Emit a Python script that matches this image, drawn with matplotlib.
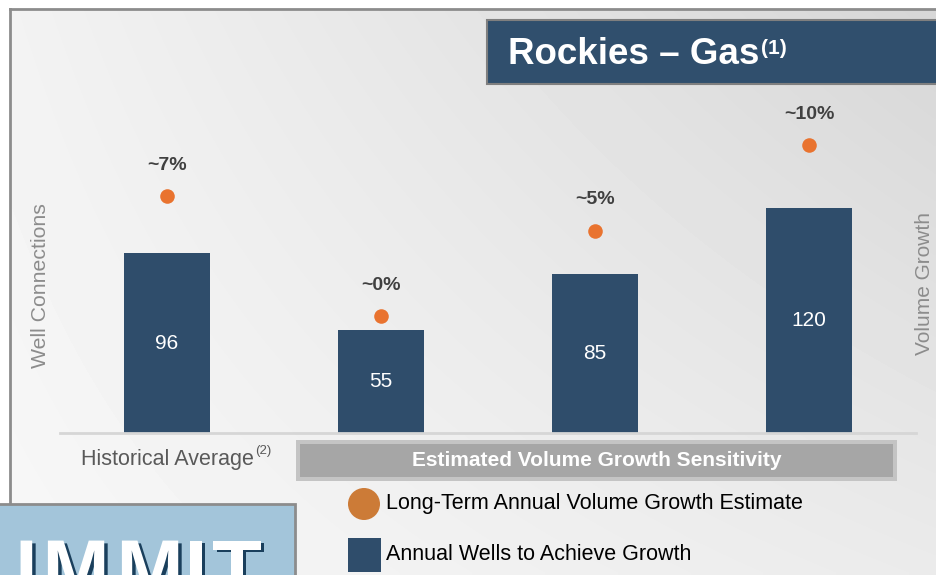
import numpy as np
import matplotlib
matplotlib.use("Agg")
import matplotlib.pyplot as plt
import matplotlib.patheffects as pe
from matplotlib.patches import Rectangle, Circle

plt.rcParams['font.family'] = ['Liberation Sans', 'DejaVu Sans']

# data
cases = ["Historical Average", "~0%", "~5%", "~10%"]
wells = [96, 55, 85, 120]
growth = [7, 0, 5, 10]
growth_labels = ["~7%", "~0%", "~5%", "~10%"]

navy = "#2f4d6b"
orange = "#e9732f"
W, H = 937, 575

fig = plt.figure(figsize=(W / 100, H / 100), dpi=100)

# background layer in pixel coords
bg = fig.add_axes([0, 0, 1, 1])
bg.set_xlim(0, W)
bg.set_ylim(H, 0)
bg.axis("off")

gx, gy = np.meshgrid(np.linspace(0, 1, 200), np.linspace(0, 1, 120))
shade = 0.95 - 0.11 * gx * (1 - 0.55 * gy) + 0.02 * gy
bg.imshow(shade, cmap="gray", vmin=0, vmax=1, extent=(10, W, H, 9),
          aspect="auto", zorder=0, interpolation="bilinear")
bg.plot([10, W], [9, 9], color="#8c8c8c", lw=2, zorder=1)
bg.plot([10, 10], [9, 504], color="#8c8c8c", lw=2, zorder=1)

# title box
bg.add_patch(Rectangle((487, 20), 460, 64, facecolor="#304f6d",
                       edgecolor="#7f7f7f", lw=1.5, zorder=2))
t = bg.text(508, 54, "Rockies \u2013 Gas", color="white", fontsize=26.5,
            fontweight="bold", va="center", ha="left", zorder=3)

# sensitivity header
bg.add_patch(Rectangle((296, 440), 601, 41, facecolor="#c4c4c4",
                       edgecolor="none", zorder=2))
bg.add_patch(Rectangle((300, 444), 593, 33, facecolor="#a6a6a6",
                       edgecolor="none", zorder=2))
bg.text(597, 460, "Estimated Volume Growth Sensitivity", color="white",
        fontsize=15, fontweight="bold", ha="center", va="center", zorder=3)

h = bg.text(81, 459, "Historical Average", color="#595959", fontsize=15.5,
            ha="left", va="center", zorder=3)

# legend
bg.add_patch(Circle((364, 504), 16, facecolor="#cc7b37", edgecolor="none", zorder=3))
bg.text(386, 503, "Long-Term Annual Volume Growth Estimate", color="black",
        fontsize=15.5, ha="left", va="center", zorder=3)
bg.add_patch(Rectangle((348, 538), 33, 34, facecolor=navy, edgecolor="none", zorder=3))
bg.text(386, 555, "Annual Wells to Achieve Growth", color="black",
        fontsize=15.5, ha="left", va="center", zorder=3)

# logo corner
bg.add_patch(Rectangle((-5, 504), 300, 80, facecolor="#a3c5da",
                       edgecolor="#8c8c8c", lw=2, zorder=3))
logo_clip = Rectangle((-5, 506), 298, 80, transform=bg.transData)
shadow = [pe.withSimplePatchShadow(offset=(2.5, -2), shadow_rgbFace="#1a3f5c", alpha=1)]
for ch, cx in zip("UMMIT", [8, 76, 150, 196, 237]):
    lg = bg.text(cx, 596, ch, color="white", fontsize=58, fontweight="bold",
                 ha="center", va="baseline", zorder=5, path_effects=shadow)
    lg.set_clip_path(logo_clip)

# chart axes
ax = fig.add_axes([60 / W, (H - 433) / H, 856 / W, 343 / H])
ax.patch.set_alpha(0)
x = np.arange(len(wells))
bars = ax.bar(x, wells, width=0.40, color=navy, zorder=2)
for xi, v in zip(x, wells):
    ax.text(xi, v / 2, str(v), color="white", fontsize=15, ha="center",
            va="center")
ax.set_xlim(-0.5, 3.5)
ax.set_ylim(0, 343 / 1.872)
for s in ["top", "left", "right"]:
    ax.spines[s].set_visible(False)
ax.spines["bottom"].set_color("#d6d6d6")
ax.spines["bottom"].set_linewidth(2)
ax.set_xticks([])
ax.set_yticks([])
ax.set_ylabel("Well Connections", color="#8c8c8c", fontsize=15.3)
ax.yaxis.set_label_coords(-0.0117, 0.431)

ax2 = ax.twinx()
ax2.set_ylim(-117 / 17.1, (343 - 117) / 17.1)
ax2.scatter(x, growth, s=110, color=orange, zorder=3, linewidths=0)
for xi, g, lab in zip(x, growth, growth_labels):
    ax2.annotate(lab, (xi, g), xytext=(0, 22), textcoords="offset points",
                 ha="center", va="center", fontsize=14, fontweight="bold",
                 color="#404040")
for s in ["top", "left", "right", "bottom"]:
    ax2.spines[s].set_visible(False)
ax2.set_yticks([])
ax2.set_ylabel("Volume Growth", color="#8c8c8c", fontsize=15, rotation=90)
ax2.yaxis.set_label_coords(0.9988, 0.437)

# superscripts placed after measuring text
fig.canvas.draw()
inv = bg.transData.inverted()
tb = inv.transform(t.get_window_extent().get_points())
bg.text(tb[1][0] + 2, 49, "(1)", color="white", fontsize=15,
        fontweight="bold", ha="left", va="center", zorder=3)
hb = inv.transform(h.get_window_extent().get_points())
bg.text(hb[1][0] + 1, 451, "(2)", color="#595959", fontsize=9.5,
        ha="left", va="center", zorder=3)

fig.savefig("out.png", dpi=100)
